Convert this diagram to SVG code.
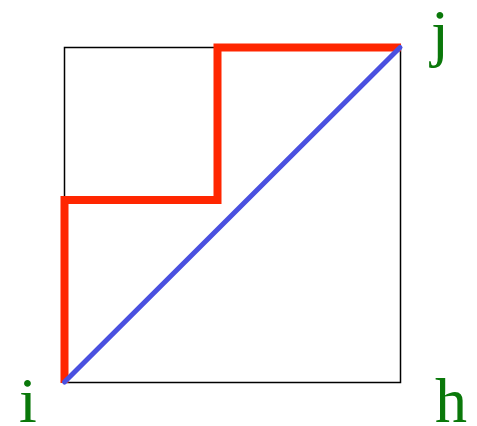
<svg xmlns="http://www.w3.org/2000/svg" width="477" height="426" viewBox="0 0 477 426">
<style>
.lbl{font-family:"Liberation Serif","Times New Roman",serif;font-size:64px;fill:#0a780a}
</style>
<rect width="477" height="426" fill="#fff"/>
<g id="square"><rect x="64.5" y="47.5" width="336" height="335" fill="none" stroke="#000" stroke-width="1.5"/></g>
<g id="connectors">
<polyline id="red-path" points="64.5,383 64.5,200 217.5,200 217.5,47.5 401,47.5" fill="none" stroke="#ff2600" stroke-width="8" stroke-linejoin="miter"/>
<line id="blue-diagonal" x1="64.5" y1="382" x2="400" y2="47.5" stroke="#4a50e0" stroke-width="5" stroke-linecap="round"/>
</g>
<g id="node-i"><text class="lbl" x="28" y="421.5" text-anchor="middle">i</text></g>
<g id="node-j"><text class="lbl" x="440" y="54" text-anchor="middle">j</text></g>
<g id="node-h"><text class="lbl" x="451" y="421.5" text-anchor="middle">h</text></g>
</svg>
